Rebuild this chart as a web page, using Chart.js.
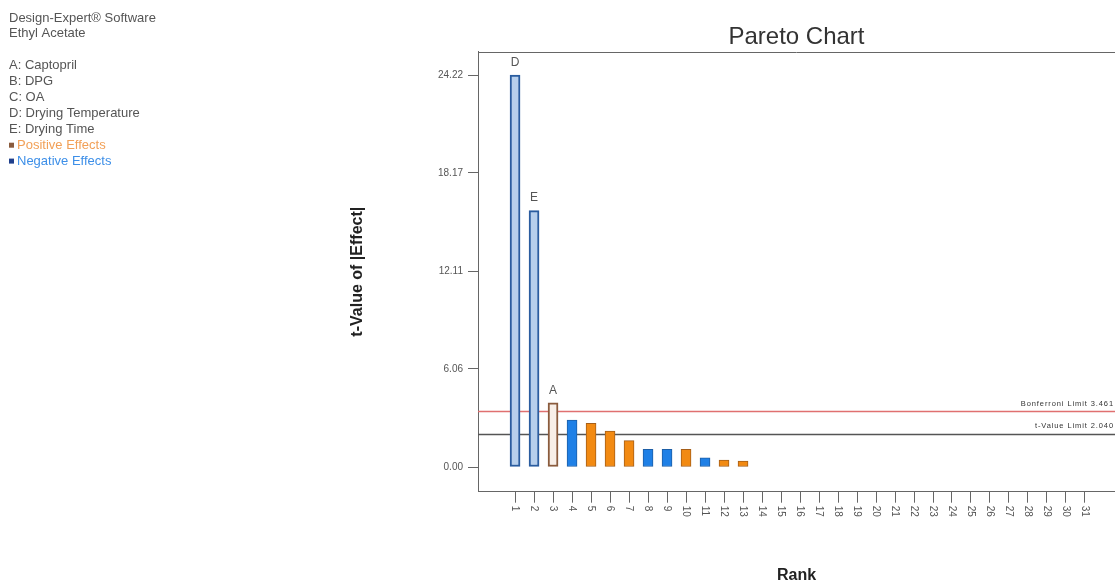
<!DOCTYPE html>
<html>
<head>
<meta charset="utf-8">
<script src="https://cdn.jsdelivr.net/npm/chart.js@4.4.1/dist/chart.umd.min.js"></script>
<style>
  html, body { margin: 0; padding: 0; background: #ffffff; overflow: hidden; }
  #wrap { width: 1115px; height: 585px; position: relative; }
  canvas { display: block; }
</style>
</head>
<body>
<div id="wrap"><canvas id="chart" width="1115" height="585"></canvas></div>
<script>
// ---------- data ----------
const ranks = [1,2,3,4,5,6,7,8,9,10,11,12,13,14,15,16,17,18,19,20,21,22,23,24,25,26,27,28,29,30,31];
const tValues = [24.22, 15.84, 3.97, 2.90, 2.70, 2.22, 1.63, 1.09, 1.09, 1.09, 0.57, 0.43, 0.37];
const effectSigns = ['-', '-', '+', '-', '+', '+', '+', '-', '-', '+', '-', '+', '+'];
const termLabels = ['D', 'E', 'A', '', '', '', '', '', '', '', '', '', ''];
const yTickValues = [0, 6.06, 12.11, 18.17, 24.22];
const tValueLimit = 2.040;
const bonferroniLimit = 3.461;
const headerLines = ['Design-Expert\u00AE Software', 'Ethyl Acetate'];
const factorLines = ['A: Captopril', 'B: DPG', 'C: OA', 'D: Drying Temperature', 'E: Drying Time'];
const effectLegend = ['Positive Effects', 'Negative Effects'];

// ---------- styles ----------
const FONT = '"Liberation Sans", Arial, sans-serif';
const colors = {
  posFill: '#f28a12', posBorder: '#a55e18',
  negFill: '#1f80e6', negBorder: '#1d5ea6',
  sigNegFill: '#b7cfec', sigNegBorder: '#2a5c9f',
  sigPosFill: '#f8efe8', sigPosBorder: '#8a5b3d'
};
function barFill(i) {
  const sig = termLabels[i] !== '';
  if (effectSigns[i] === '+') return sig ? colors.sigPosFill : colors.posFill;
  return sig ? colors.sigNegFill : colors.negFill;
}
function barBorder(i) {
  const sig = termLabels[i] !== '';
  if (effectSigns[i] === '+') return sig ? colors.sigPosBorder : colors.posBorder;
  return sig ? colors.sigNegBorder : colors.negBorder;
}
function barBorderWidth(i) { return termLabels[i] !== '' ? 2 : 1; }

const overlay = {
  id: 'overlay',
  beforeDatasetsDraw(chart) {
    const {ctx, chartArea: a, scales: {y}} = chart;
    ctx.save();
    // limit lines
    const yb = Math.round(y.getPixelForValue(bonferroniLimit)) + 0.5;
    const yt = Math.round(y.getPixelForValue(tValueLimit)) + 0.5;
    ctx.lineWidth = 1.5;
    ctx.strokeStyle = '#e07070';
    ctx.beginPath(); ctx.moveTo(a.left, yb); ctx.lineTo(a.right, yb); ctx.stroke();
    ctx.strokeStyle = '#555555';
    ctx.beginPath(); ctx.moveTo(a.left, yt); ctx.lineTo(a.right, yt); ctx.stroke();
    // limit labels
    ctx.fillStyle = '#333';
    ctx.font = '7.5px ' + FONT;
    ctx.textAlign = 'right';
    ctx.textBaseline = 'middle';
    try { ctx.letterSpacing = '0.9px'; } catch (e) {}
    ctx.fillText('Bonferroni Limit ' + bonferroniLimit.toFixed(3), a.right - 1, yb - 8);
    ctx.fillText('t-Value Limit ' + tValueLimit.toFixed(3), a.right - 1, yt - 9);
    try { ctx.letterSpacing = '0px'; } catch (e) {}
    ctx.restore();
  },
  afterDraw(chart) {
    const {ctx, chartArea: a, scales: {x}} = chart;
    ctx.save();
    // top frame line
    ctx.strokeStyle = '#666';
    ctx.lineWidth = 1;
    ctx.beginPath();
    ctx.moveTo(a.left, Math.round(a.top) + 0.5);
    ctx.lineTo(a.right, Math.round(a.top) + 0.5);
    ctx.stroke();

    // term labels above bars
    const meta = chart.getDatasetMeta(0);
    ctx.fillStyle = '#555';
    ctx.font = '12px ' + FONT;
    ctx.textAlign = 'center';
    ctx.textBaseline = 'middle';
    meta.data.forEach((bar, i) => {
      if (termLabels[i]) ctx.fillText(termLabels[i], bar.x, bar.y - 12.5);
    });

    // rotated rank labels (reading downward)
    ctx.font = '10px ' + FONT;
    ctx.fillStyle = '#555';
    ctx.textAlign = 'left';
    ctx.textBaseline = 'middle';
    ranks.forEach(r => {
      const px = x.getPixelForValue(r);
      ctx.save();
      ctx.translate(px, a.bottom + 14);
      ctx.rotate(Math.PI / 2);
      ctx.fillText(String(r), 0, 0);
      ctx.restore();
    });

    // header / legend text at top-left
    ctx.textAlign = 'left';
    ctx.textBaseline = 'middle';
    ctx.font = '13px ' + FONT;
    const step = 15.9, y0 = 18, xl = 9;
    ctx.fillStyle = '#555';
    headerLines.forEach((t, k) => ctx.fillText(t, xl, y0 + k * step));
    factorLines.forEach((t, k) => ctx.fillText(t, xl, y0 + (k + 3) * step));
    const effColors = ['#f2a057', '#3d8fe8'];
    const sqColors = ['#8a5b3d', '#1f3f8c'];
    effectLegend.forEach((t, k) => {
      const yy = y0 + (k + 8) * step;
      ctx.fillStyle = sqColors[k];
      ctx.fillRect(xl, yy - 2.5, 5, 5);
      ctx.fillStyle = effColors[k];
      ctx.fillText(t, xl + 8, yy);
    });
    ctx.restore();
  }
};

new Chart(document.getElementById('chart'), {
  type: 'bar',
  data: {
    datasets: [{
      data: tValues.map((v, i) => ({x: ranks[i], y: v})),
      backgroundColor: tValues.map((v, i) => barFill(i)),
      borderColor: tValues.map((v, i) => barBorder(i)),
      borderWidth: tValues.map((v, i) => barBorderWidth(i)),
      borderSkipped: false,
      barThickness: 10
    }]
  },
  options: {
    responsive: false,
    devicePixelRatio: 1,
    animation: false,
    layout: { padding: 0 },
    plugins: {
      legend: { display: false },
      tooltip: { enabled: false },
      title: {
        display: true,
        text: 'Pareto Chart',
        fullSize: false,
        color: '#333',
        font: { family: FONT, size: 24, weight: 'normal', lineHeight: 1.2 },
        padding: { top: 22.6, bottom: 0.3 }
      }
    },
    scales: {
      x: {
        type: 'linear',
        min: -0.95,
        max: 32.58,
        offset: false,
        afterBuildTicks: s => { s.ticks = ranks.map(v => ({value: v})); },
        afterFit: s => { s.height = 93.3; },
        ticks: { autoSkip: false, callback: () => '', maxRotation: 0, font: { size: 10, family: FONT } },
        grid: { offset: false, drawOnChartArea: false, drawTicks: true, tickLength: 11, color: '#666' },
        border: { color: '#666', width: 1 },
        title: { display: true, text: 'Rank', color: '#222', font: { family: FONT, size: 16, weight: 'bold', lineHeight: 1.2 }, padding: { top: 0, bottom: 0 } }
      },
      y: {
        type: 'linear',
        min: -1.526,
        max: 25.66,
        afterBuildTicks: s => { s.ticks = yTickValues.map(v => ({value: v})); },
        afterFit: s => { s.width = 478; },
        ticks: { color: '#555', padding: 5, font: { family: FONT, size: 10 }, callback: v => Number(v).toFixed(2) },
        grid: { drawOnChartArea: false, drawTicks: true, tickLength: 10, color: '#666' },
        border: { color: '#666', width: 1 },
        title: { display: true, text: 't-Value of |Effect|', color: '#222', font: { family: FONT, size: 16, weight: 'bold', lineHeight: 1.2 }, padding: { top: 348, bottom: 0 } }
      }
    }
  },
  plugins: [overlay]
});
</script>
</body>
</html>
